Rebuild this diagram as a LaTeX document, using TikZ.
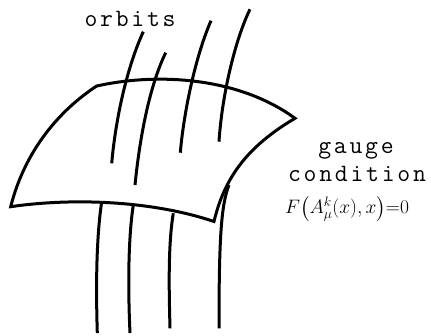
\documentclass[tikz,border=0pt]{standalone}
\usepackage{fix-cm}
\usepackage{amsmath}
\usepackage{fontspec}
\newfontfamily\lbltt[LetterSpace=11]{Latin Modern Mono}
\tikzset{
  curve/.style={line width=3pt, line join=miter},
  lbl/.style={inner sep=0pt, anchor=base, font=\fontsize{25}{29}\selectfont\lbltt},
  eqn/.style={inner sep=0pt, anchor=base, font=\fontsize{19.5}{23}\selectfont}
}
\begin{document}
\begin{tikzpicture}[x=1pt,y=-1pt]
\useasboundingbox (0,0) rectangle (431,336);
% surface
\coordinate (TL) at (96.7,86);
\coordinate (BL) at (10.7,206.7);
\coordinate (BR) at (214,221.5);
\coordinate (R) at (295,118.3);
\draw[curve] (TL) .. controls (160,72) and (240,78) .. (R)
  .. controls (250,145) and (225,175) .. (BR)
  .. controls (150,200) and (70,198) .. (BL)
  .. controls (25,150) and (60,110) .. cycle;
% orbits above
\coordinate (a1) at (143.3,31.7); \coordinate (a1e) at (111.7,163.3);
\coordinate (a2) at (165.7,52.7); \coordinate (a2e) at (135,185);
\coordinate (a3) at (211,20.7); \coordinate (a3e) at (180.3,152.7);
\coordinate (a4) at (250,9.3); \coordinate (a4e) at (219,141.7);
\draw[curve] (a1) .. controls (128,65) and (116,115) .. (a1e);
\draw[curve] (a2) .. controls (150,85) and (140,135) .. (a2e);
\draw[curve] (a3) .. controls (196,55) and (184,110) .. (a3e);
\draw[curve] (a4) .. controls (235,40) and (222,95) .. (a4e);
% orbits below
\coordinate (b1) at (101.7,201.7); \coordinate (b1e) at (97.3,333);
\coordinate (b2) at (133.3,205); \coordinate (b2e) at (130,333);
\coordinate (b3) at (173.3,213.3); \coordinate (b3e) at (170,328.3);
\coordinate (b4) at (229,185); \coordinate (b4e) at (219,328.3);
\draw[curve] (b1) .. controls (96,240) and (96,290) .. (b1e);
\draw[curve] (b2) .. controls (128,240) and (128,290) .. (b2e);
\draw[curve] (b3) .. controls (168,245) and (169,290) .. (b3e);
\draw[curve] (b4) .. controls (221,205) and (219,240) .. (b4e);
% labels
\node[lbl] (orb) at (130,26.7) {orbits};
\node[lbl] (gau) at (356,154) {gauge};
\node[lbl] (con) at (357,181.7) {condition};
\node[eqn] (eq) at (347,213.5) {$F\big(A^k_\mu(x),x\big){=}0$};
\end{tikzpicture}
\end{document}
